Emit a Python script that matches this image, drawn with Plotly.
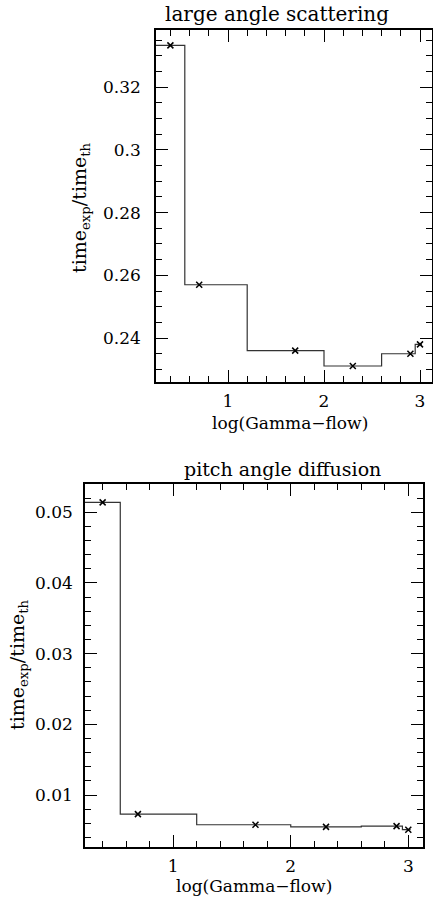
import plotly.graph_objects as go

# ---- data: large angle scattering ----
las_edges = [0.25, 0.55, 1.2, 2.0, 2.6, 2.95, 3.02]
las_values = [0.3333, 0.257, 0.236, 0.2311, 0.235, 0.238]
las_pts_x = [0.4, 0.7, 1.7, 2.3, 2.9, 3.0]
las_pts_y = [0.3333, 0.257, 0.236, 0.2311, 0.235, 0.238]
las_yticks = [0.24, 0.26, 0.28, 0.30, 0.32]
las_yticklabels = ["0.24", "0.26", "0.28", "0.3", "0.32"]

# ---- data: pitch angle diffusion ----
pad_edges = [0.25, 0.55, 1.2, 2.0, 2.6, 2.95, 3.02]
pad_values = [0.0514, 0.0073, 0.0058, 0.0055, 0.0056, 0.0051]
pad_pts_x = [0.4, 0.7, 1.7, 2.3, 2.9, 3.0]
pad_pts_y = [0.0514, 0.0073, 0.0058, 0.0055, 0.0056, 0.0051]
pad_yticks = [0.01, 0.02, 0.03, 0.04, 0.05]
pad_yticklabels = ["0.01", "0.02", "0.03", "0.04", "0.05"]

x_ticks = [1, 2, 3]
x_ticklabels = ["1", "2", "3"]
W, H = 433, 901
FONT = "DejaVu Serif"

fig = go.Figure()

def add_panel(edges, values, px, py, xa, ya):
    fig.add_trace(go.Scatter(
        x=edges, y=values + [values[-1]], mode="lines", line_shape="hv",
        line=dict(color="#333", width=1.2), xaxis=xa, yaxis=ya, showlegend=False))
    fig.add_trace(go.Scatter(
        x=px, y=py, mode="markers",
        marker=dict(symbol="x-thin", size=6, line=dict(color="black", width=1.5)),
        xaxis=xa, yaxis=ya, showlegend=False))

add_panel(las_edges, las_values, las_pts_x, las_pts_y, "x", "y")
add_panel(pad_edges, pad_values, pad_pts_x, pad_pts_y, "x2", "y2")

def px2x(p):
    return p / W

def px2y(p):
    return 1 - p / H

axis_common = dict(
    showgrid=False, zeroline=False, showline=True, linecolor="black", linewidth=1.5,
    mirror="allticks", ticks="inside", ticklen=12, tickwidth=1, tickcolor="black",
    tickfont=dict(family=FONT, size=17, color="black"),
)

def minor(d):
    return dict(dtick=d, tick0=0, ticklen=6, ticks="inside", tickcolor="black")

fig.update_layout(
    width=W, height=H, margin=dict(l=0, r=0, t=0, b=0),
    plot_bgcolor="white", paper_bgcolor="white",
    xaxis=dict(domain=[px2x(156), px2x(432)], range=[0.25, 3.125], anchor="y",
               tickvals=x_ticks, ticktext=x_ticklabels, minor=minor(0.2),
               ticklabelstandoff=3, **axis_common),
    yaxis=dict(domain=[px2y(382), px2y(30)], range=[0.226, 0.3382], anchor="x",
               tickvals=las_yticks, ticktext=las_yticklabels, minor=minor(0.005),
               ticklabelstandoff=10, **axis_common),
    xaxis2=dict(domain=[px2x(85), px2x(423)], range=[0.25, 3.125], anchor="y2",
                tickvals=x_ticks, ticktext=x_ticklabels, minor=minor(0.2),
                ticklabelstandoff=3, **axis_common),
    yaxis2=dict(domain=[px2y(847), px2y(484)], range=[0.00265, 0.054], anchor="x2",
                tickvals=pad_yticks, ticktext=pad_yticklabels, minor=minor(0.002),
                ticklabelstandoff=7, **axis_common),
)

ytitle = "time<sub>exp</sub>/time<sub>th</sub>"
xtitle = "log(Gamma\u2212flow)"
anns = [
    dict(text="large angle scattering", x=px2x(277), y=px2y(14), size=20),
    dict(text=xtitle, x=px2x(290), y=px2y(423), size=17),
    dict(text=ytitle, x=px2x(80), y=px2y(208), textangle=-90, size=19),
    dict(text="pitch angle diffusion", x=px2x(282), y=px2y(469), size=19),
    dict(text=xtitle, x=px2x(254), y=px2y(886), size=17),
    dict(text=ytitle, x=px2x(18), y=px2y(665), textangle=-90, size=19),
]
for a in anns:
    size = a.pop("size")
    fig.add_annotation(xref="paper", yref="paper", showarrow=False,
                       xanchor="center", yanchor="middle",
                       font=dict(family=FONT, size=size, color="black"), **a)

fig.write_html("out.html")
